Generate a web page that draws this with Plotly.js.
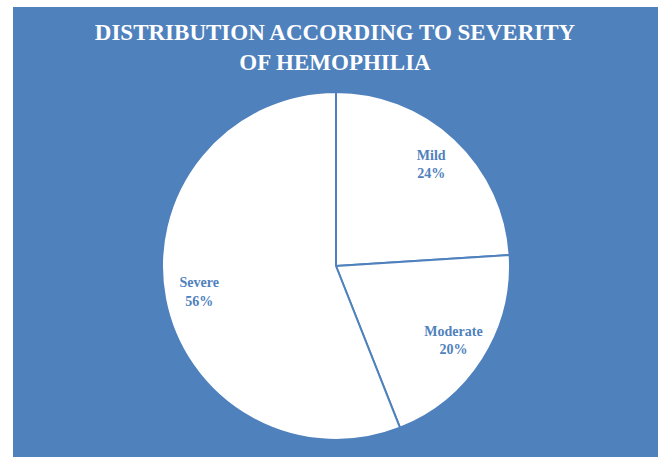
<!DOCTYPE html>
<html>
<head>
<meta charset="utf-8">
<script src="https://cdn.plot.ly/plotly-3.0.1.min.js"></script>
<style>html,body{margin:0;padding:0;background:#fff;}#chart{width:660px;height:457px;}</style>
</head>
<body>
<div id="chart"></div>
<script>
const categories = ["Mild", "Moderate", "Severe"];
const shares = [24, 20, 56];
const titleLines = ["DISTRIBUTION ACCORDING TO SEVERITY", "OF HEMOPHILIA"];

const BLUE = "#4F81BD";
const W = 660, H = 457;
const pieDomain = { x: [162 / W, 510 / W], y: [17 / H, 365 / H] };

// white slices with blue separators
const slices = {
  type: "pie",
  labels: categories,
  values: shares,
  sort: false,
  direction: "clockwise",
  rotation: 0,
  marker: { colors: categories.map(() => "#FFFFFF"), line: { color: BLUE, width: 2 } },
  textinfo: "none",
  hoverinfo: "none",
  showlegend: false,
  domain: pieDomain
};

// transparent ring of the same data, used only to place the labels further out
const labelRing = {
  type: "pie",
  labels: categories,
  values: shares,
  sort: false,
  direction: "clockwise",
  rotation: 0,
  hole: 0.6,
  marker: { colors: categories.map(() => "rgba(0,0,0,0)"), line: { width: 0 } },
  texttemplate: "%{label}<br>%{percent:.0%}",
  textposition: "inside",
  insidetextorientation: "horizontal",
  textfont: { family: "Liberation Serif", size: 14, color: BLUE, weight: "bold" },
  hoverinfo: "none",
  showlegend: false,
  domain: pieDomain
};

const layout = {
  width: W, height: H,
  margin: { l: 0, r: 0, t: 0, b: 0 },
  paper_bgcolor: "#FFFFFF",
  showlegend: false,
  title: {
    text: "<b>" + titleLines.join("<br>") + "</b>",
    font: { family: "Liberation Serif", size: 23, color: "#FFFFFF" },
    x: 335 / W, xanchor: "center",
    y: 1 - 40 / H, yanchor: "top",
    yref: "container", xref: "container"
  },
  shapes: [{
    type: "rect", xref: "paper", yref: "paper", layer: "below",
    x0: 13 / W, x1: 658 / W, y0: 0, y1: 1 - 7 / H,
    fillcolor: BLUE, line: { width: 0 }
  }]
};

Plotly.newPlot("chart", [slices, labelRing], layout, { displayModeBar: false, staticPlot: true });
</script>
</body>
</html>
